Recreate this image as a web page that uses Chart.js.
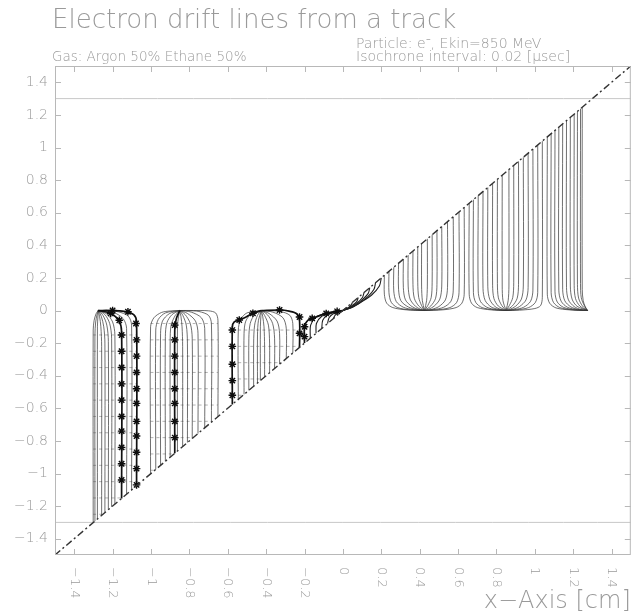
<!DOCTYPE html>
<html>
<head>
<meta charset="utf-8">
<script src="https://cdn.jsdelivr.net/npm/chart.js@4.4.1/dist/chart.umd.min.js"></script>
<style>
html,body{margin:0;padding:0;background:#fff;}
canvas{display:block;}
</style>
</head>
<body>
<canvas id="c" width="636" height="611"></canvas>
<script>
// ---------- tick values & labels ----------
const xTicks = [-1.4,-1.2,-1,-0.8,-0.6,-0.4,-0.2,0,0.2,0.4,0.6,0.8,1,1.2,1.4];
const xTickLabels = ['−1.4','−1.2','−1','−0.8','−0.6','−0.4','−0.2','0','0.2','0.4','0.6','0.8','1','1.2','1.4'];
const yTicks = [-1.4,-1.2,-1,-0.8,-0.6,-0.4,-0.2,0,0.2,0.4,0.6,0.8,1,1.2,1.4];
const yTickLabels = ['−1.4','−1.2','−1','−0.8','−0.6','−0.4','−0.2','0','0.2','0.4','0.6','0.8','1','1.2','1.4'];

// ---------- track and planes ----------
const track = [[-1.5,-1.5],[1.5,1.5]];
const planeTop = [[-1.5,1.3],[1.5,1.3]];
const planeBottom = [[-1.5,-1.3],[1.5,-1.3]];

// ---------- drift lines, wire at x = -1.275 ----------
const driftA = [
 [[-1.301,-1.301],[-1.301,-0.12],[-1.296,-0.06],[-1.286,-0.02],[-1.275,0]],
 [[-1.292,-1.292],[-1.292,-0.15],[-1.288,-0.07],[-1.281,-0.025],[-1.275,0]],
 [[-1.279,-1.279],[-1.279,-0.10],[-1.276,-0.03],[-1.275,0]],
 [[-1.257,-1.257],[-1.257,-0.22],[-1.261,-0.10],[-1.268,-0.035],[-1.275,0]],
 [[-1.240,-1.240],[-1.240,-0.20],[-1.246,-0.10],[-1.259,-0.035],[-1.275,0]],
 [[-1.222,-1.222],[-1.222,-0.19],[-1.230,-0.09],[-1.250,-0.03],[-1.275,0]],
 [[-1.205,-1.205],[-1.205,-0.17],[-1.215,-0.08],[-1.240,-0.025],[-1.275,0]],
 [[-1.188,-1.188],[-1.188,-0.15],[-1.200,-0.07],[-1.232,-0.02],[-1.275,0]],
 [[-1.127,-1.127],[-1.127,-0.11],[-1.145,-0.05],[-1.195,-0.012],[-1.275,0]],
 [[-1.101,-1.101],[-1.101,-0.09],[-1.118,-0.035],[-1.170,-0.008],[-1.230,-0.002],[-1.275,0]]
];
const starLineA1 = [[-1.153,-1.153],[-1.153,-0.13],[-1.168,-0.06],[-1.210,-0.018],[-1.275,0]];
const starLineA2 = [[-1.075,-1.075],[-1.075,-0.07],[-1.090,-0.025],[-1.140,-0.005],[-1.210,0],[-1.275,0]];

// ---------- drift lines, wire at x = -0.85 ----------
const driftB = [
 [[-1.002,-1.002],[-1.002,-0.10],[-0.985,-0.045],[-0.945,-0.012],[-0.900,-0.003],[-0.85,0]],
 [[-0.975,-0.975],[-0.975,-0.12],[-0.962,-0.055],[-0.925,-0.015],[-0.85,0]],
 [[-0.950,-0.950],[-0.950,-0.14],[-0.940,-0.065],[-0.905,-0.02],[-0.85,0]],
 [[-0.925,-0.925],[-0.925,-0.16],[-0.917,-0.075],[-0.890,-0.025],[-0.85,0]],
 [[-0.900,-0.900],[-0.900,-0.19],[-0.895,-0.09],[-0.873,-0.03],[-0.85,0]],
 [[-0.862,-0.862],[-0.862,-0.10],[-0.856,-0.035],[-0.85,0]],
 [[-0.835,-0.835],[-0.835,-0.22],[-0.838,-0.10],[-0.844,-0.035],[-0.85,0]],
 [[-0.810,-0.810],[-0.810,-0.20],[-0.816,-0.09],[-0.834,-0.03],[-0.85,0]],
 [[-0.785,-0.785],[-0.785,-0.17],[-0.795,-0.08],[-0.822,-0.025],[-0.85,0]],
 [[-0.755,-0.755],[-0.755,-0.14],[-0.768,-0.065],[-0.810,-0.018],[-0.85,0]],
 [[-0.720,-0.720],[-0.720,-0.11],[-0.737,-0.045],[-0.790,-0.01],[-0.85,0]],
 [[-0.685,-0.685],[-0.685,-0.08],[-0.700,-0.03],[-0.750,-0.006],[-0.810,-0.001],[-0.85,0]],
 [[-0.651,-0.651],[-0.651,-0.06],[-0.663,-0.015],[-0.700,-0.002],[-0.780,0],[-0.85,0]]
];
const starLineB = [[-0.876,-0.876],[-0.876,-0.12],[-0.868,-0.05],[-0.85,0]];

// ---------- drift lines, wire at x = -0.425 ----------
const driftC = [
 [[-0.545,-0.545],[-0.545,-0.12],[-0.533,-0.055],[-0.500,-0.015],[-0.425,0]],
 [[-0.515,-0.515],[-0.515,-0.14],[-0.506,-0.065],[-0.476,-0.02],[-0.425,0]],
 [[-0.490,-0.490],[-0.490,-0.17],[-0.483,-0.08],[-0.460,-0.025],[-0.425,0]],
 [[-0.465,-0.465],[-0.465,-0.20],[-0.460,-0.09],[-0.445,-0.03],[-0.425,0]],
 [[-0.445,-0.445],[-0.445,-0.15],[-0.440,-0.06],[-0.425,0]],
 [[-0.430,-0.430],[-0.430,-0.10],[-0.427,-0.03],[-0.425,0]],
 [[-0.408,-0.408],[-0.408,-0.22],[-0.411,-0.10],[-0.418,-0.035],[-0.425,0]],
 [[-0.382,-0.382],[-0.382,-0.20],[-0.388,-0.09],[-0.408,-0.03],[-0.425,0]],
 [[-0.356,-0.356],[-0.356,-0.17],[-0.366,-0.08],[-0.394,-0.025],[-0.425,0]],
 [[-0.330,-0.330],[-0.330,-0.14],[-0.343,-0.065],[-0.385,-0.018],[-0.425,0]],
 [[-0.295,-0.295],[-0.295,-0.11],[-0.312,-0.045],[-0.365,-0.01],[-0.425,0]],
 [[-0.261,-0.261],[-0.261,-0.08],[-0.276,-0.03],[-0.325,-0.006],[-0.385,-0.001],[-0.425,0]]
];
const starLineC1 = [[-0.576,-0.576],[-0.576,-0.10],[-0.566,-0.07],[-0.540,-0.058],[-0.512,-0.044],[-0.469,-0.017],[-0.425,0]];
const starLineC2 = [[-0.226,-0.226],[-0.226,-0.06],[-0.240,-0.02],[-0.280,-0.004],[-0.330,0.003],[-0.425,0]];

// ---------- drift lines, wire at x = 0 ----------
const driftD = [
 [[-0.17,-0.17],[-0.168,-0.09],[-0.14,-0.04],[-0.09,-0.017],[-0.04,-0.005],[0,0]],
 [[-0.14,-0.14],[-0.138,-0.08],[-0.11,-0.035],[-0.06,-0.012],[0,0]],
 [[-0.11,-0.11],[-0.105,-0.06],[-0.08,-0.028],[-0.04,-0.01],[0,0]],
 [[-0.08,-0.08],[-0.072,-0.045],[-0.05,-0.02],[0,0]],
 [[-0.05,-0.05],[-0.04,-0.028],[-0.02,-0.01],[0,0]],
 [[-0.02,-0.02],[-0.01,-0.008],[0,0]],
 [[0.02,0.02],[0.01,0.008],[0,0]],
 [[0.05,0.05],[0.04,0.03],[0.02,0.01],[0,0]],
 [[0.08,0.08],[0.072,0.055],[0.045,0.028],[0,0]],
 [[0.11,0.11],[0.102,0.08],[0.075,0.048],[0.04,0.02],[0,0]],
 [[0.14,0.14],[0.132,0.105],[0.10,0.065],[0.06,0.03],[0,0]],
 [[0.17,0.17],[0.162,0.13],[0.13,0.085],[0.085,0.045],[0.04,0.016],[0,0]],
 [[0.20,0.20],[0.19,0.15],[0.15,0.095],[0.10,0.055],[0.05,0.02],[0,0]]
];
const starLineD = [[-0.20,-0.20],[-0.20,-0.10],[-0.183,-0.06],[-0.14,-0.04],[-0.087,-0.018],[0,0]];

// ---------- drift lines, wire at x = 0.425 ----------
const driftE = [
 [[0.216,0.216],[0.216,0.10],[0.228,0.045],[0.26,0.018],[0.33,0.004],[0.425,0]],
 [[0.240,0.240],[0.240,0.11],[0.252,0.05],[0.285,0.018],[0.35,0.004],[0.425,0]],
 [[0.265,0.265],[0.265,0.12],[0.278,0.055],[0.315,0.02],[0.37,0.005],[0.425,0]],
 [[0.290,0.290],[0.290,0.13],[0.302,0.06],[0.34,0.022],[0.385,0.006],[0.425,0]],
 [[0.315,0.315],[0.315,0.14],[0.326,0.065],[0.36,0.024],[0.395,0.006],[0.425,0]],
 [[0.340,0.340],[0.340,0.15],[0.350,0.07],[0.378,0.026],[0.405,0.007],[0.425,0]],
 [[0.365,0.365],[0.365,0.16],[0.372,0.075],[0.395,0.028],[0.425,0]],
 [[0.390,0.390],[0.390,0.17],[0.395,0.08],[0.41,0.03],[0.425,0]],
 [[0.410,0.410],[0.410,0.15],[0.414,0.06],[0.425,0]],
 [[0.440,0.440],[0.440,0.15],[0.436,0.06],[0.425,0]],
 [[0.465,0.465],[0.465,0.17],[0.46,0.08],[0.442,0.03],[0.425,0]],
 [[0.490,0.490],[0.490,0.16],[0.483,0.075],[0.458,0.028],[0.425,0]],
 [[0.515,0.515],[0.515,0.15],[0.505,0.07],[0.475,0.026],[0.445,0.007],[0.425,0]],
 [[0.545,0.545],[0.545,0.14],[0.534,0.065],[0.50,0.024],[0.46,0.006],[0.425,0]],
 [[0.575,0.575],[0.575,0.125],[0.563,0.057],[0.525,0.02],[0.47,0.005],[0.425,0]],
 [[0.605,0.605],[0.605,0.11],[0.593,0.05],[0.558,0.018],[0.49,0.004],[0.425,0]],
 [[0.632,0.632],[0.632,0.10],[0.62,0.045],[0.59,0.018],[0.52,0.004],[0.425,0]]
];

// ---------- drift lines, wire at x = 0.85 ----------
const driftF = [
 [[0.658,0.658],[0.658,0.10],[0.67,0.045],[0.70,0.018],[0.77,0.004],[0.85,0]],
 [[0.680,0.680],[0.680,0.11],[0.692,0.05],[0.725,0.018],[0.79,0.004],[0.85,0]],
 [[0.705,0.705],[0.705,0.12],[0.717,0.055],[0.75,0.02],[0.80,0.005],[0.85,0]],
 [[0.730,0.730],[0.730,0.135],[0.741,0.062],[0.772,0.022],[0.815,0.006],[0.85,0]],
 [[0.755,0.755],[0.755,0.145],[0.765,0.068],[0.792,0.025],[0.825,0.006],[0.85,0]],
 [[0.780,0.780],[0.780,0.155],[0.787,0.073],[0.81,0.027],[0.85,0]],
 [[0.805,0.805],[0.805,0.165],[0.81,0.078],[0.828,0.03],[0.85,0]],
 [[0.830,0.830],[0.830,0.15],[0.834,0.06],[0.85,0]],
 [[0.865,0.865],[0.865,0.15],[0.861,0.06],[0.85,0]],
 [[0.890,0.890],[0.890,0.17],[0.885,0.08],[0.867,0.03],[0.85,0]],
 [[0.915,0.915],[0.915,0.16],[0.908,0.075],[0.883,0.028],[0.85,0]],
 [[0.940,0.940],[0.940,0.15],[0.93,0.07],[0.90,0.026],[0.87,0.007],[0.85,0]],
 [[0.965,0.965],[0.965,0.14],[0.954,0.065],[0.92,0.024],[0.882,0.006],[0.85,0]],
 [[0.990,0.990],[0.990,0.125],[0.978,0.057],[0.942,0.02],[0.893,0.005],[0.85,0]],
 [[1.015,1.015],[1.015,0.11],[1.003,0.05],[0.968,0.018],[0.905,0.004],[0.85,0]],
 [[1.039,1.039],[1.039,0.08],[1.03,0.03],[1.0,0.012],[0.92,0.002],[0.85,0]]
];

// ---------- drift lines, wire at x = 1.275 ----------
const driftG = [
 [[1.065,1.065],[1.065,0.10],[1.077,0.045],[1.11,0.016],[1.18,0.004],[1.275,0]],
 [[1.085,1.085],[1.085,0.11],[1.097,0.05],[1.13,0.018],[1.195,0.004],[1.275,0]],
 [[1.105,1.105],[1.105,0.115],[1.117,0.052],[1.15,0.019],[1.21,0.004],[1.275,0]],
 [[1.125,1.125],[1.125,0.125],[1.137,0.057],[1.17,0.02],[1.222,0.005],[1.275,0]],
 [[1.145,1.145],[1.145,0.13],[1.156,0.06],[1.188,0.022],[1.232,0.005],[1.275,0]],
 [[1.165,1.165],[1.165,0.14],[1.175,0.065],[1.205,0.024],[1.24,0.006],[1.275,0]],
 [[1.185,1.185],[1.185,0.15],[1.194,0.07],[1.22,0.026],[1.275,0]],
 [[1.205,1.205],[1.205,0.155],[1.212,0.073],[1.235,0.027],[1.275,0]],
 [[1.222,1.222],[1.222,0.16],[1.228,0.076],[1.248,0.028],[1.275,0]],
 [[1.238,1.238],[1.238,0.165],[1.242,0.078],[1.258,0.03],[1.275,0]],
 [[1.247,1.247],[1.247,0.13],[1.252,0.06],[1.263,0.022],[1.275,0]]
];

// ---------- isochrones: [x from, x to, y] ----------
const isoA = [[-1.301,-1.075,-0.15],[-1.301,-1.075,-0.25],[-1.301,-1.075,-0.35],[-1.301,-1.075,-0.45],
 [-1.301,-1.075,-0.55],[-1.301,-1.075,-0.65],[-1.301,-1.075,-0.75],[-1.301,-1.075,-0.85],
 [-1.301,-1.075,-0.95],[-1.301,-1.075,-1.05],[-1.301,-1.15,-1.15],[-1.301,-1.25,-1.25]];
const isoB = [[-1.002,-0.651,-0.08],[-1.002,-0.651,-0.18],[-1.002,-0.651,-0.28],[-1.002,-0.651,-0.38],
 [-1.002,-0.651,-0.48],[-1.002,-0.651,-0.58],[-1.002,-0.68,-0.68],[-1.002,-0.78,-0.78],
 [-1.002,-0.88,-0.88],[-1.002,-0.98,-0.98]];
const isoC = [[-0.576,-0.226,-0.12],[-0.576,-0.226,-0.22],[-0.576,-0.32,-0.32],[-0.576,-0.42,-0.42],[-0.576,-0.52,-0.52]];

// ---------- star markers ----------
const starsA1 = [[-1.153,-1.04],[-1.153,-0.94],[-1.153,-0.84],[-1.153,-0.74],[-1.153,-0.65],[-1.153,-0.55],
 [-1.153,-0.45],[-1.153,-0.35],[-1.153,-0.25],[-1.153,-0.15],[-1.165,-0.06],[-1.21,-0.018]];
const starsA2 = [[-1.075,-1.07],[-1.075,-0.97],[-1.075,-0.87],[-1.075,-0.77],[-1.075,-0.68],[-1.075,-0.57],
 [-1.075,-0.48],[-1.075,-0.38],[-1.075,-0.28],[-1.075,-0.18],[-1.078,-0.08],[-1.12,-0.008],[-1.2,0]];
const starsB = [[-0.876,-0.78],[-0.876,-0.68],[-0.876,-0.57],[-0.876,-0.48],[-0.876,-0.38],[-0.876,-0.28],[-0.876,-0.18],[-0.876,-0.09]];
const starsC1 = [[-0.576,-0.52],[-0.576,-0.43],[-0.576,-0.33],[-0.576,-0.22],[-0.576,-0.12],[-0.54,-0.058],[-0.469,-0.017]];
const starsC2 = [[-0.226,-0.14],[-0.226,-0.04],[-0.33,0.003]];
const starsD = [[-0.20,-0.16],[-0.20,-0.10],[-0.16,-0.048],[-0.087,-0.018],[-0.03,-0.005]];

// ---------- build datasets ----------
const toXY = pts => pts.map(p => ({x: p[0], y: p[1]}));
function lineSet(pts, color, width, dash) {
  return {data: toXY(pts), showLine: true, borderColor: color, borderWidth: width,
          borderDash: dash || [], pointRadius: 0, pointHoverRadius: 0, tension: 0.3, fill: false};
}
function starSet(pts) {
  return {data: toXY(pts), showLine: false, pointStyle: 'star', pointRadius: 3.8,
          borderColor: '#0d0d0d', backgroundColor: '#0d0d0d', borderWidth: 1.4, pointHoverRadius: 0};
}
function isoSet(seg) {
  return lineSet([[seg[0], seg[2]], [seg[1], seg[2]]], 'rgba(110,110,110,0.75)', 0.7, [3, 3]);
}

const datasets = [];
datasets.push(lineSet(track, '#333333', 1.4, [7, 3, 2, 3]));
[starsA1, starsA2, starsB, starsC1, starsC2, starsD].forEach(s => datasets.push(starSet(s)));
[starLineA1, starLineA2, starLineB, starLineC1, starLineC2, starLineD].forEach(l => datasets.push(lineSet(l, '#111', 1.7)));
driftD.forEach(l => datasets.push(lineSet(l, '#222', 1.1)));
[driftA, driftB, driftC, driftE, driftF, driftG].forEach(g => g.forEach(l => datasets.push(lineSet(l, 'rgba(55,55,55,0.85)', 0.85))));
[isoA, isoB, isoC].forEach(g => g.forEach(s => datasets.push(isoSet(s))));
datasets.push(lineSet(planeTop, '#c8c8c8', 1));
datasets.push(lineSet(planeBottom, '#c8c8c8', 1));

// ---------- decorations: frame, inner ticks, rotated x labels, texts ----------
const FONT = '"DejaVu Sans", "Liberation Sans", sans-serif';
const TEXT = '#9a9a9a';
const decor = {
  id: 'decor',
  afterDraw(chart) {
    const ctx = chart.ctx, a = chart.chartArea, xs = chart.scales.x, ys = chart.scales.y;
    ctx.save();
    ctx.strokeStyle = '#b8b8b8';
    ctx.lineWidth = 1;
    ctx.strokeRect(a.left + 0.5, a.top + 0.5, a.right - a.left - 1, a.bottom - a.top - 1);
    ctx.beginPath();
    xTicks.forEach(v => {
      const px = Math.round(xs.getPixelForValue(v)) + 0.5;
      ctx.moveTo(px, a.bottom); ctx.lineTo(px, a.bottom - 6);
      ctx.moveTo(px, a.top); ctx.lineTo(px, a.top + 6);
    });
    yTicks.forEach(v => {
      const py = Math.round(ys.getPixelForValue(v)) + 0.5;
      ctx.moveTo(a.left, py); ctx.lineTo(a.left + 6, py);
      ctx.moveTo(a.right, py); ctx.lineTo(a.right - 6, py);
    });
    ctx.stroke();

    ctx.fillStyle = TEXT;
    ctx.font = '200 13px ' + FONT;
    ctx.textAlign = 'left';
    ctx.textBaseline = 'middle';
    xTicks.forEach((v, i) => {
      ctx.save();
      ctx.translate(xs.getPixelForValue(v), a.bottom + 12);
      ctx.rotate(Math.PI / 2);
      ctx.fillText(xTickLabels[i], 0, 0);
      ctx.restore();
    });

    ctx.textBaseline = 'alphabetic';
    ctx.textAlign = 'right';
    ctx.font = '200 24px ' + FONT;
    ctx.fillText('x\u2212Axis [cm]', a.right, 608);

    ctx.textAlign = 'left';
    ctx.font = '200 26px ' + FONT;
    ctx.fillText('Electron drift lines from a track', 52, 28);
    ctx.font = '200 13.5px ' + FONT;
    ctx.fillText('Gas: Argon 50% Ethane 50%', 52, 61);
    ctx.font = '200 14px ' + FONT;
    ctx.fillText('Particle: e\u207B, Ekin=850 MeV', 356, 48);
    ctx.fillText('Isochrone interval: 0.02 [\u00B5sec]', 356, 61);
    ctx.restore();
  }
};

new Chart(document.getElementById('c'), {
  type: 'scatter',
  data: {datasets},
  options: {
    responsive: false,
    animation: false,
    devicePixelRatio: 1,
    events: [],
    layout: {padding: {top: 66, right: 4, left: 0, bottom: 0}},
    plugins: {legend: {display: false}, tooltip: {enabled: false}, title: {display: false}},
    scales: {
      x: {
        type: 'linear', min: -1.5, max: 1.5,
        grid: {display: false, drawTicks: false}, border: {display: false},
        ticks: {display: false},
        afterFit(s) { s.height = 56; }
      },
      y: {
        type: 'linear', min: -1.5, max: 1.5,
        grid: {display: false, drawTicks: false}, border: {display: false},
        afterBuildTicks(s) { s.ticks = yTicks.map(v => ({value: v})); },
        ticks: {autoSkip: false, padding: 7, color: TEXT,
                font: {family: FONT, size: 14, weight: 200},
                callback: (v, i) => yTickLabels[i]},
        afterFit(s) { s.width = 55; }
      }
    }
  },
  plugins: [decor]
});
</script>
</body>
</html>
